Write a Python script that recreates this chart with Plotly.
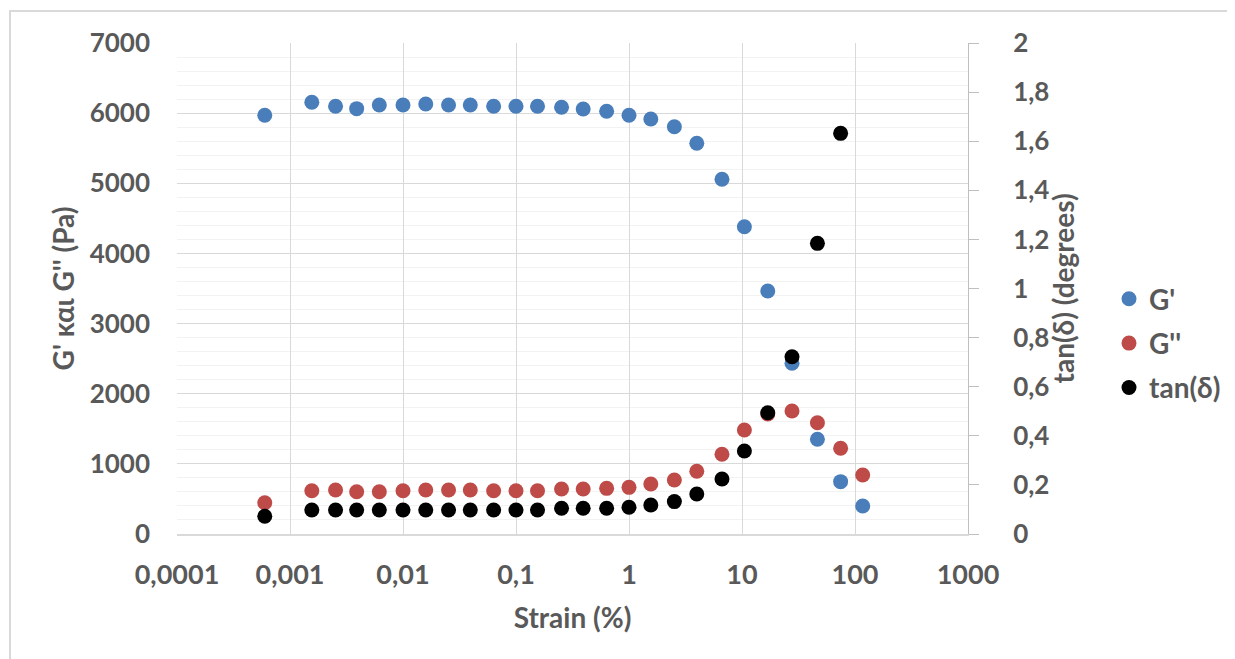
import plotly.graph_objects as go

# ---- data ----
strain = [0.000598, 0.00156, 0.00253, 0.00389, 0.00617, 0.01, 0.0159, 0.0253, 0.0394,
          0.0634, 0.1, 0.155, 0.253, 0.393, 0.634, 1.0, 1.56, 2.52, 3.98, 6.65, 10.5,
          16.9, 27.7, 46.5, 74.6, 117]
g_storage = [5969, 6155, 6098, 6064, 6116, 6116, 6130, 6116, 6116, 6098, 6098, 6098,
             6083, 6060, 6026, 5969, 5917, 5807, 5570, 5057, 4381, 3465, 2434, 1350,
             746, 399]
g_loss = [446, 617, 627, 603, 603, 617, 627, 627, 627, 617, 617, 617, 641, 641, 651,
          665, 713, 770, 895, 1136, 1483, 1711, 1754, 1587, 1222, 841]
tan_delta = [0.072, 0.098, 0.098, 0.098, 0.098, 0.098, 0.098, 0.098, 0.098, 0.098,
             0.098, 0.098, 0.105, 0.105, 0.105, 0.109, 0.118, 0.132, 0.163, 0.224,
             0.338, 0.494, 0.722, 1.184, 1.632, 2.11]

x_tickvals = [0.0001, 0.001, 0.01, 0.1, 1, 10, 100, 1000]
x_ticktext = ["0,0001", "0,001", "0,01", "0,1", "1", "10", "100", "1000"]

# page has an 8px body margin -> figure is 8px smaller and shifted
OFF = 8
W, H = 1235 - OFF, 659 - OFF
ML, MR, MT, MB = 177 - OFF, 267, 43 - OFF, 125
PW, PH = W - ML - MR, H - MT - MB

TXT = "#595959"
FONT = "Lato"
BLUE = "#4A7EBB"
RED = "#BE4B48"
BLACK = "#000000"
XTICK_SIZE = 27
YTICK_SIZE = 26
TITLE_SIZE = 28

fig = go.Figure()
fig.add_trace(go.Scatter(x=strain, y=g_storage, mode="markers", name="G'",
                         legendgroup="a",
                         marker=dict(color=BLUE, size=15, line=dict(width=0))))
fig.add_trace(go.Scatter(x=strain, y=g_loss, mode="markers", name="G''",
                         legendgroup="b",
                         marker=dict(color=RED, size=15, line=dict(width=0))))
fig.add_trace(go.Scatter(x=strain, y=tan_delta, mode="markers", name="tan(δ)",
                         legendgroup="c", yaxis="y2",
                         marker=dict(color=BLACK, size=15, line=dict(width=0))))

# convert page pixel positions to paper coordinates
def px2paper_x(p):
    return (p - OFF - ML) / PW

def px2paper_y(p):
    return (H - MB - (p - OFF)) / PH

fnt = lambda s: dict(family=FONT, size=s, color=TXT, weight="bold")

fig.update_layout(
    template="none",
    width=W, height=H,
    margin=dict(l=ML, r=MR, t=MT, b=MB, pad=0, autoexpand=False),
    paper_bgcolor="white", plot_bgcolor="white",
    separators=",.",
    font=fnt(TITLE_SIZE),
    showlegend=True,
    legend=dict(x=px2paper_x(1109), y=px2paper_y(274), xanchor="left", yanchor="top",
                font=fnt(TITLE_SIZE), tracegroupgap=5,
                bgcolor="rgba(0,0,0,0)", itemsizing="trace"),
    xaxis=dict(type="log", range=[-4, 3], tickvals=x_tickvals, ticktext=x_ticktext,
               automargin=False,
               showgrid=True, gridcolor="#D9D9D9", gridwidth=1,
               showline=True, linecolor="#D9D9D9", linewidth=2,
               ticks="outside", ticklen=3, tickcolor="rgba(0,0,0,0)",
               ticklabelstandoff=13,
               tickfont=fnt(XTICK_SIZE),
               title=dict(text="Strain (%)", standoff=19, font=fnt(TITLE_SIZE)),
               zeroline=False),
    yaxis=dict(range=[0, 7000], dtick=1000, showgrid=True, gridcolor="#D9D9D9",
               automargin=False,
               gridwidth=1, zeroline=False, showline=False, ticks="",
               ticklabelstandoff=26,
               minor=dict(dtick=200, showgrid=True, gridcolor="#F2F2F2", gridwidth=1),
               tickfont=fnt(YTICK_SIZE),
               title=dict(text="G' και G'' (Pa)", standoff=6, font=fnt(TITLE_SIZE))),
    yaxis2=dict(range=[0, 2], dtick=0.2, overlaying="y", side="right",
                automargin=False,
                showgrid=False, zeroline=False, showline=True, linecolor="#BFBFBF",
                linewidth=1, ticks="outside", ticklen=10, tickcolor="#BFBFBF",
                ticklabelstandoff=29,
                tickfont=fnt(YTICK_SIZE)),
    annotations=[dict(text="tan(δ) (degrees)", xref="paper", yref="paper",
                      x=px2paper_x(1062), y=0.5, xanchor="center", yanchor="middle",
                      textangle=-90, showarrow=False, font=fnt(TITLE_SIZE))],
    shapes=[dict(type="rect", xref="paper", yref="paper",
                 x0=px2paper_x(10), x1=px2paper_x(1300),
                 y0=px2paper_y(720), y1=px2paper_y(11),
                 line=dict(color="#D9D9D9", width=2), fillcolor="rgba(0,0,0,0)",
                 layer="below")],
)

fig.write_html("out.html")
